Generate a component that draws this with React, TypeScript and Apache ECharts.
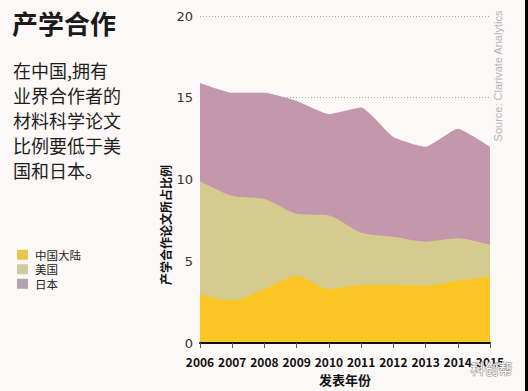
import React, { useEffect, useRef } from "react";
import * as echarts from "echarts";

const years = ["2006", "2007", "2008", "2009", "2010", "2011", "2012", "2013", "2014", "2015"];
const chinaValues = [3.0, 2.6, 3.3, 4.1, 3.3, 3.55, 3.55, 3.5, 3.8, 4.05];
const usValues = [9.9, 9.0, 8.8, 7.9, 7.8, 6.75, 6.5, 6.2, 6.4, 6.0];
const japanValues = [15.9, 15.3, 15.3, 14.8, 14.0, 14.4, 12.6, 12.0, 13.1, 12.0];
const seriesNames = ["中国大陆", "美国", "日本"];
const titleText = "产学合作";
const bodyLines = ["在中国,拥有", "业界合作者的", "材料科学论文", "比例要低于美", "国和日本。"];
const yAxisName = "产学合作论文所占比例";

const FONT = "'Noto Sans CJK SC', 'Noto Sans', sans-serif";

export default function App() {
  const ref = useRef<HTMLDivElement>(null);
  useEffect(() => {
    if (!ref.current) return;
    const chart = echarts.init(ref.current, null, { renderer: "svg" });
    chart.setOption({
      animation: false,
      backgroundColor: "#fcf8f7",
      textStyle: { fontFamily: FONT },
      grid: { left: 200, right: 38, top: 16, bottom: 47 },
      legend: {
        orient: "vertical",
        left: 12,
        top: 244,
        itemWidth: 11,
        itemHeight: 10,
        itemGap: 3,
        icon: "rect",
        textStyle: { fontSize: 11.5, lineHeight: 11, color: "#222", fontFamily: FONT, padding: [0, 0, 0, 2] },
        data: [
          { name: seriesNames[0], itemStyle: { color: "#e8c84c" } },
          { name: seriesNames[1], itemStyle: { color: "#d0c99c" } },
          { name: seriesNames[2], itemStyle: { color: "#b4a3ae" } },
        ],
      },
      xAxis: {
        type: "category",
        boundaryGap: false,
        data: years,
        name: "发表年份",
        nameLocation: "middle",
        nameGap: 30,
        nameTextStyle: { fontSize: 13, fontWeight: "bold", color: "#111", fontFamily: FONT },
        axisLine: { lineStyle: { color: "#111", width: 2 } },
        axisTick: { length: 5, interval: 0, lineStyle: { color: "#555" } },
        axisLabel: { interval: 0, fontSize: 12, fontWeight: "bold", color: "#111", margin: 12, fontFamily: FONT },
        z: 10,
      },
      yAxis: {
        type: "value",
        min: 0,
        max: 20,
        interval: 5,
        axisLine: { show: false },
        axisTick: { show: false },
        axisLabel: { fontSize: 13, color: "#333", margin: 7, fontFamily: "'DejaVu Sans', sans-serif" },
        splitLine: { lineStyle: { color: "#aaa", type: [1, 2], width: 1 } },
      },
      series: [
        {
          name: seriesNames[2],
          type: "line",
          data: japanValues,
          symbol: "none",
          smooth: 0.15,
          lineStyle: { width: 0 },
          itemStyle: { color: "#c398ad" },
          areaStyle: { color: "#c398ad", opacity: 1 },
          z: 2,
        },
        {
          name: seriesNames[1],
          type: "line",
          data: usValues,
          symbol: "none",
          smooth: 0.25,
          lineStyle: { width: 0 },
          itemStyle: { color: "#d5cb8f" },
          areaStyle: { color: "#d5cb8f", opacity: 1 },
          z: 3,
        },
        {
          name: seriesNames[0],
          type: "line",
          data: chinaValues,
          symbol: "none",
          smooth: 0.3,
          lineStyle: { width: 0 },
          itemStyle: { color: "#fbc624" },
          areaStyle: { color: "#fbc624", opacity: 1 },
          z: 4,
        },
      ],
      graphic: [
        {
          type: "text",
          left: 12,
          top: 9,
          style: { text: titleText, fontSize: 26, fontWeight: "bold", fill: "#1a1a1a", fontFamily: FONT },
        },
        {
          type: "text",
          left: 13,
          top: 57,
          style: {
            text: bodyLines.join("\n"),
            fontSize: 18,
            lineHeight: 25,
            fill: "#1e1e1e",
            fontFamily: FONT,
          },
        },
        {
          type: "text",
          x: 165,
          y: 225,
          rotation: Math.PI / 2,
          style: {
            text: yAxisName,
            fontSize: 12,
            fontWeight: "bold",
            fill: "#111",
            align: "center",
            verticalAlign: "middle",
            fontFamily: FONT,
          },
        },
        {
          type: "text",
          x: 498,
          y: 76,
          rotation: Math.PI / 2,
          style: {
            text: "Source: Clarivate Analytics",
            fontSize: 11,
            fill: "#b5b5b5",
            align: "center",
            verticalAlign: "middle",
            fontFamily: "'Liberation Sans', Arial, sans-serif",
          },
        },
        {
          type: "text",
          left: 470,
          top: 360,
          z: 100,
          style: {
            text: "科创帮",
            fontSize: 14,
            fill: "#ffffff",
            stroke: "#8a8a8a",
            lineWidth: 1,
            fontFamily: FONT,
          },
        },
        {
          type: "rect",
          right: 0,
          top: 0,
          shape: { width: 3, height: 391 },
          style: { fill: "#000" },
        },
      ],
    });
    return () => chart.dispose();
  }, []);
  return <div ref={ref} style={{ width: 528, height: 391, position: "absolute", left: 0, top: 0 }} />;
}
